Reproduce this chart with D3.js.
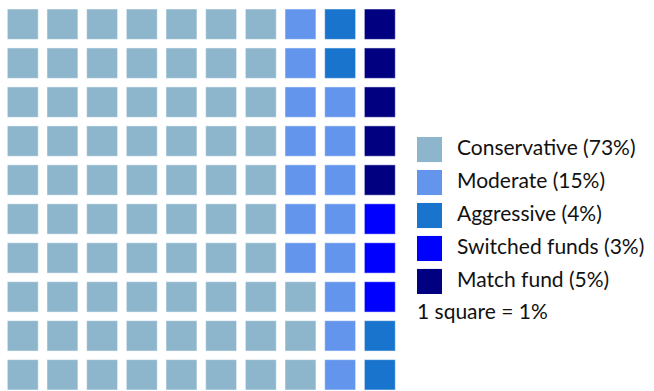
<!DOCTYPE html>
<html>
<head>
<meta charset="utf-8">
<script src="https://cdn.jsdelivr.net/npm/d3@7"></script>
<style>
  html, body { margin: 0; padding: 0; background: #fff; }
  svg { display: block; font-family: "Source Sans Pro", Lato, "Noto Sans", sans-serif; }
</style>
</head>
<body>
<svg id="chart" width="654" height="391"></svg>
<script>
"use strict";

// ─── Data ──────────────────────────────────────────────────────────────────
const categories = ["Conservative", "Moderate", "Aggressive", "Switched funds", "Match fund"];
const shares = [73, 15, 4, 3, 5];           // percent, 1 square = 1%
const colors = ["#8DB6CD", "#6495ED", "#1874CD", "#0000FF", "#000080"];
const nCols = 10, nRows = 10;
const footnote = "1 square = 1%";

const svg = d3.select("#chart");

// Expand shares into one cell per percent; fill column by column, bottom up.
const cells = [];
categories.forEach((c, i) => {
  for (let k = 0; k < shares[i]; k++) cells.push({ cat: c, idx: i });
});
cells.forEach((d, n) => {
  d.col = Math.floor(n / nRows);
  d.row = nRows - 1 - (n % nRows);
});

const x = d3.scaleBand().domain(d3.range(nCols)).range([7.3, 395.3]).paddingInner(0.22);
const y = d3.scaleBand().domain(d3.range(nRows)).range([9, 390]).paddingInner(0.22);
const color = d3.scaleOrdinal().domain(categories).range(colors);

svg.append("g").attr("class", "waffle")
  .selectAll("rect")
  .data(cells)
  .join("rect")
    .attr("x", d => x(d.col))
    .attr("y", d => y(d.row))
    .attr("width", x.bandwidth())
    .attr("height", y.bandwidth())
    .attr("fill", d => color(d.cat))
    .attr("stroke", "#fff")
    .attr("stroke-opacity", 0.5)
    .attr("stroke-width", 1);

// ─── Legend ────────────────────────────────────────────────────────────────
const ly = d3.scaleBand().domain(categories).range([137, 294]).paddingInner(0.24);
const legend = svg.append("g").attr("class", "legend");
const items = legend.selectAll("g")
  .data(categories)
  .join("g")
    .attr("transform", d => `translate(417,${ly(d)})`);

items.append("rect")
  .attr("width", 25)
  .attr("height", ly.bandwidth())
  .attr("fill", d => color(d));

items.append("text")
  .attr("x", 40)
  .attr("y", 18)
  .attr("font-size", 21)
  .attr("fill", "#111")
  .text((d, i) => `${d} (${shares[i]}%)`);

legend.append("text")
  .attr("x", 417)
  .attr("y", 319)
  .attr("font-size", 21)
  .attr("fill", "#111")
  .text(footnote);
</script>
</body>
</html>
